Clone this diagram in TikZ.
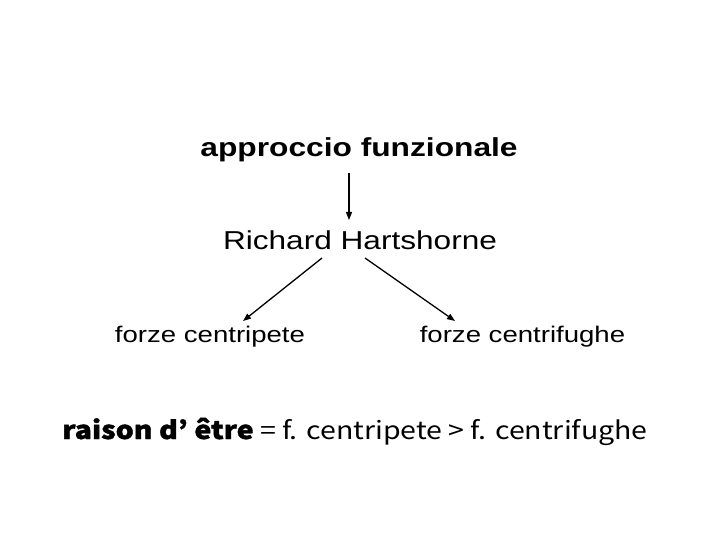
\documentclass[tikz,border=0pt]{standalone}
\usepackage{fontspec}
\setmainfont{Liberation Sans}[FakeStretch=1.22]
\newfontfamily\jp{Noto Sans CJK JP}[FakeStretch=1.15, BoldFeatures={FakeBold=1.5}]
\usetikzlibrary{arrows.meta}
\tikzset{
  lbl/.style={anchor=base, inner sep=0pt, text=black},
  conn/.style={line width=1.3pt, -{Triangle[length=8pt,width=6pt]}}
}
\begin{document}
\begin{tikzpicture}[x=1pt,y=-1pt]
\useasboundingbox (0,0) rectangle (720,540);
\fill[white] (0,0) rectangle (720,540);
\node[lbl, font=\fontsize{26}{30}\selectfont\bfseries] (appr) at (359,157) {approccio funzionale};
\node[lbl, font=\fontsize{25.9}{30}\selectfont] (rich) at (360,249.5) {Richard Hartshorne};
\node[lbl, font=\fontsize{22.6}{26}\selectfont] (cpet) at (210,342) {forze centripete};
\node[lbl, font=\fontsize{22.6}{26}\selectfont] (cfug) at (522.5,342) {forze centrifughe};
\node[lbl, font=\fontsize{24.8}{28}\selectfont\jp] (rais) at (355,439) {\textbf{raison d’ être} = f. centripete > f. centrifughe};
\coordinate (a1) at (349,173);
\coordinate (a2) at (349,220);
\coordinate (l1) at (322,258);
\coordinate (l2) at (243,321);
\coordinate (r1) at (365,258);
\coordinate (r2) at (455,321);
\draw[conn] (a1) -- (a2);
\draw[conn] (l1) -- (l2);
\draw[conn] (r1) -- (r2);
\end{tikzpicture}
\end{document}
